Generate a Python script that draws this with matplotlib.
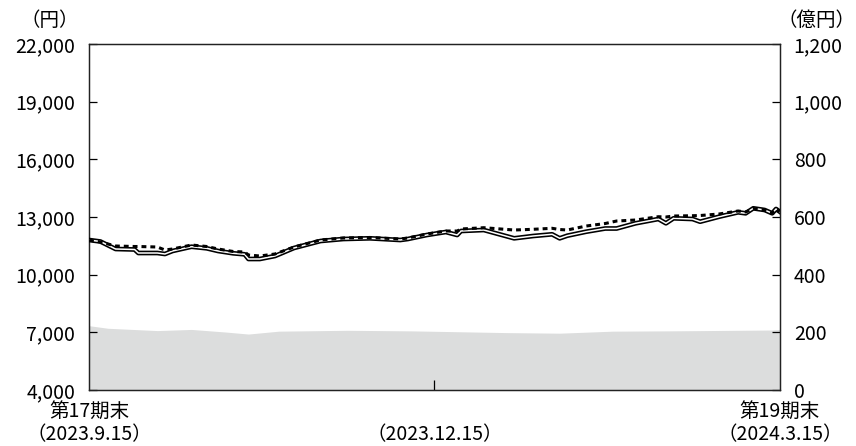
import matplotlib
matplotlib.use('Agg')
import matplotlib.pyplot as plt
import pandas as pd

plt.rcParams['font.family'] = ['Noto Sans CJK JP', 'DejaVu Sans']

# 基準価額（実線）と分配金再投資基準価額（点線） 円
line_dates = ['2023-09-15', '2023-09-18', '2023-09-22', '2023-09-27', '2023-09-28',
              '2023-10-03', '2023-10-05', '2023-10-07', '2023-10-12', '2023-10-16',
              '2023-10-19', '2023-10-23', '2023-10-26', '2023-10-27', '2023-10-30',
              '2023-11-03', '2023-11-08', '2023-11-15', '2023-11-21', '2023-11-28',
              '2023-12-06', '2023-12-08', '2023-12-13', '2023-12-18', '2023-12-21',
              '2023-12-22', '2023-12-28', '2024-01-05', '2024-01-10', '2024-01-15',
              '2024-01-17', '2024-01-19', '2024-01-24', '2024-01-29', '2024-02-01',
              '2024-02-06', '2024-02-12', '2024-02-14', '2024-02-16', '2024-02-21',
              '2024-02-23', '2024-02-28', '2024-03-04', '2024-03-06', '2024-03-08',
              '2024-03-11', '2024-03-13', '2024-03-14', '2024-03-15']
nav = [11803, 11725, 11335, 11309, 11127, 11127, 11075, 11231, 11454, 11371,
       11231, 11111, 11059, 10815, 10815, 10971, 11387, 11751, 11855, 11891,
       11803, 11855, 12063, 12219, 12063, 12271, 12323, 11891, 12011, 12100,
       11891, 12027, 12235, 12401, 12401, 12672, 12895, 12672, 12932, 12895,
       12755, 13015, 13244, 13192, 13452, 13364, 13192, 13416, 13275]
nav_reinv = [11803, 11699, 11491, 11465, 11465, 11439, 11283, 11335, 11543, 11465,
             11335, 11205, 11179, 11023, 10971, 11075, 11439, 11803, 11907, 11933,
             11855, 11907, 12115, 12271, 12271, 12375, 12443, 12323, 12360, 12412,
             12349, 12323, 12531, 12661, 12791, 12843, 13015, 13000, 13051, 13067,
             13077, 13156, 13312, 13260, 13442, 13364, 13208, 13416, 13275]

# 純資産総額 億円
asset_dates = ['2023-09-15', '2023-09-20', '2023-10-03', '2023-10-12', '2023-10-21',
               '2023-10-27', '2023-11-04', '2023-11-22', '2023-12-09', '2024-01-03',
               '2024-01-17', '2024-01-31', '2024-02-14', '2024-02-24', '2024-03-13',
               '2024-03-15']
assets = [223, 214, 206, 210, 201, 194, 204, 207, 205, 199, 197, 204, 205, 206, 208, 210]

x_ticks = ['2023-09-15', '2023-12-15', '2024-03-15']
x_labels = ['第17期末\n（2023.9.15）', '\n（2023.12.15）', '第19期末\n（2024.3.15）']
left_ticks = [4000, 7000, 10000, 13000, 16000, 19000, 22000]
right_ticks = [0, 200, 400, 600, 800, 1000, 1200]

line_dates = pd.to_datetime(line_dates)
asset_dates = pd.to_datetime(asset_dates)

fig = plt.figure(figsize=(8.56, 4.46), dpi=100)
ax = fig.add_axes([0.104, 0.1256, 0.807, 0.7757])
ax2 = ax.twinx()

ax2.fill_between(asset_dates, 0, assets, color='#dcdddd', lw=0, zorder=1)
ax2.set_ylim(0, 1200)

ax.set_zorder(ax2.get_zorder() + 1)
ax.patch.set_visible(False)
ax.plot(line_dates, nav, color='black', lw=3.4, zorder=3)
ax.plot(line_dates, nav, color='white', lw=1.1, zorder=4)
ax.plot(line_dates, nav_reinv, color='black', lw=2.2, linestyle=(0, (1.6, 1.3)), zorder=5)
ax.set_ylim(4000, 22000)
ax.set_xlim(pd.Timestamp('2023-09-15'), pd.Timestamp('2024-03-15'))

ax.set_yticks(left_ticks)
ax.set_yticklabels([f'{v:,}' for v in left_ticks])
ax2.set_yticks(right_ticks)
ax2.set_yticklabels([f'{v:,}' for v in right_ticks])
ax.set_xticks(pd.to_datetime(x_ticks))
ax.set_xticklabels(x_labels, linespacing=1.1)

for a in (ax, ax2):
    for s in a.spines.values():
        s.set_linewidth(0.9)
        s.set_color('#222222')
ax.tick_params(axis='y', direction='in', length=6, width=0.9, labelsize=14, pad=10)
ax2.tick_params(axis='y', direction='in', length=6, width=0.9, labelsize=14, pad=10)
ax.tick_params(axis='x', direction='in', length=7, width=0.9, labelsize=14, pad=8)
# 両端の目盛線は枠と重なるので見えない
ax.xaxis.get_major_ticks()[0].tick1line.set_visible(False)
ax.xaxis.get_major_ticks()[-1].tick1line.set_visible(False)

fig.text(0.058, 0.955, '（円）', ha='center', va='center', fontsize=14)
fig.text(0.999, 0.955, '（億円）', ha='right', va='center', fontsize=14)

fig.savefig('out.png', dpi=100)
